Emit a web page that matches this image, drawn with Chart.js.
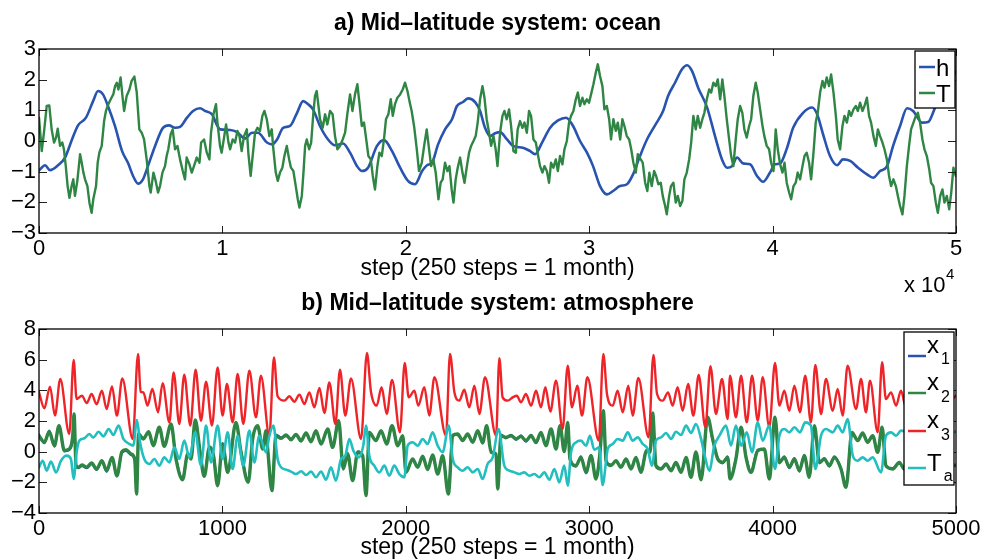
<!DOCTYPE html>
<html>
<head>
<meta charset="utf-8">
<script src="https://cdn.jsdelivr.net/npm/chart.js@4.4.1/dist/chart.umd.min.js"></script>
<style>
  html, body { margin: 0; padding: 0; background: #fff; }
  #wrap { position: relative; width: 983px; height: 559px; }
  #wrap canvas { position: absolute; left: 0; top: 0; }
</style>
</head>
<body>
<div id="wrap">
  <canvas id="ocean" width="983" height="559"></canvas>
  <canvas id="atmos" width="983" height="559"></canvas>
</div>
<script>
// ── Panel a) ocean: h and T against step ─────────────────────
const hSteps = [0,330,600,1040,1420,1800,2130,2560,2950,3220,3490,3760,4140,4530,4850,5130,5400,5670,5940,6330,6760,7090,7420,7690,8070,8400,8780,9050,9430,9710,9870,10420,10800,11230,11620,11940,12430,12710,12980,13310,13690,14070,14400,14670,14940,15320,15760,
  16140,16580,16960,17340,17610,17940,18430,18810,19250,19690,20120,20500,20890,21160,21430,21760,22140,22520,22790,23120,23390,23780,24050,24320,24590,24870,25140,25520,25850,26390,26780,27050,27430,27870,28300,28740,29120,29500,29880,30210,30590,30970,31300,31680,32060,32390,32770,
  33150,33590,34030,34300,34680,35060,35340,35610,35940,36430,36860,37240,37520,37790,38060,38390,38770,39150,39480,39860,40130,40410,40790,41120,41660,42150,42430,42750,43130,43520,43840,44230,44660,45150,45480,45860,46240,46570,46950,47330,47660,48150,48480,48860,49240,50000];
const hVals = [-0.96,-0.79,-0.95,-0.79,-0.54,0.05,0.51,0.76,1.3,1.63,1.52,1.14,0.49,-0.33,-0.71,-1.14,-1.39,-1.25,-0.82,-0.16,0.43,0.51,0.43,0.46,0.76,0.98,1.07,0.98,0.87,0.51,0.38,0.36,0.29,0.08,0.27,0.27,-0.05,-0.11,0.05,0.43,0.49,0.92,1.3,1.2,1.03,0.49,0.05,
  -0.14,-0.08,-0.38,-0.82,-0.98,-0.87,-0.16,0.03,-0.33,-0.87,-1.3,-1.41,-0.98,-0.79,-0.71,-0.11,0.38,0.71,1.14,1.27,1.39,1.27,0.98,0.43,0.16,0.25,0.29,0.05,-0.16,-0.22,-0.33,-0.43,-0.05,0.43,0.67,0.76,0.49,0,-0.38,-0.82,-1.47,-1.74,-1.63,-1.47,-1.41,-1.09,-0.49,
  0.05,0.51,0.98,1.47,1.9,2.34,2.47,2.28,1.74,1.09,0.16,-0.6,-0.87,-0.82,-0.54,-0.73,-0.76,-1.14,-1.33,-1.03,-0.76,-0.73,-0.22,0.43,0.92,1.09,0.87,0.22,-0.49,-0.79,-0.6,-0.65,-0.87,-1.09,-1.2,-0.98,-0.82,-0.16,0.49,1.07,0.98,0.6,0.62,1.09,1.58,2.26];

const tSteps = [0,150,270,420,560,690,820,930,1020,1150,1270,1360,1460,1560,1660,1780,1870,1960,2090,2240,2330,2420,2510,2640,2750,2870,2960,3110,3200,3290,3420,3550,3650,3780,3910,4050,4150,4240,4330,4450,4560,4640,4780,4930,5050,5200,5330,5470,5600,5730,5870,6020,6090,6240,6360,6490,6600,6730,6870,6960,7050,7180,7290,7420,7550,7690,7840,7960,8050,8200,8330,8450,8600,8750,8840,9000,9150,9290,9380,9510,9650,9730,9870,9960,10090,10200,10330,10420,10560,10690,10820,10930,11050,11180,11330,11420,11540,11650,11780,11910,12050,12180,12290,12420,12560,12690,12780,12910,13020,13140,13270,13380,13510,13640,13740,13870,14000,14110,14200,14330,14420,14510,14600,14730,14840,14960,15050,15140,15240,
  15320,15470,15600,15720,15870,16010,16140,16270,16410,16560,16690,16810,16960,17090,17230,17360,17470,17600,17720,17830,17960,18090,18200,18320,18450,18560,18690,18810,18920,19050,19180,19290,19410,19540,19690,19830,19960,20090,20200,20320,20450,20600,20720,20870,21000,21140,21270,21380,21500,21630,21780,21900,22010,22140,22270,22380,22500,22600,22720,22830,22960,23090,23200,23320,23450,23560,23690,23810,23920,24050,24180,24290,24410,24540,24650,24780,24900,25000,25140,25270,25380,25500,25630,25740,25870,26000,26100,26230,26360,26470,26600,26720,26830,26960,27090,27200,27320,27450,27560,27690,27810,27920,28050,28180,28290,28410,28540,28650,28780,28900,29010,29140,29270,29380,29500,29630,29740,29870,29990,30100,30230,30360,30470,30590,30720,30830,30960,31090,31190,31320,31450,31560,31690,31810,31920,32050,32180,32290,32410,32540,32650,
  32920,33050,33170,33280,33410,33540,33650,33770,33900,34010,34140,34230,34360,34460,34590,34720,34830,34960,35080,35190,35320,35450,35560,35680,35810,35920,36050,36170,36280,36410,36540,36650,36770,36900,37010,37140,37260,37370,37500,37630,37740,37860,37990,38100,38230,38350,38460,38590,38720,38830,38950,39080,39190,39320,39450,39550,39680,39810,39920,40050,40170,40280,40410,40540,40650,40770,40900,41010,41140,41260,41370,41500,41630,41740,41860,41990,42100,42230,42350,42460,42590,42720,42830,42950,43080,43190,43320,43450,43550,43680,43810,43920,44050,44170,44280,44410,44540,44650,44770,44900,45010,45140,45260,45370,45500,45630,45740,45860,45990,46100,46230,46350,46460,46590,46720,46830,46950,47080,47190,47320,47440,47550,47680,47810,47920,48040,48170,48280,48410,48540,48640,48770,48900,49010,49140,49260,49370,49500,49630,49740,49860,49990];
const tVals = [0.76,-0.33,0.27,1.14,1.16,0.38,-0.05,0.11,0.40,-0.16,-0.05,-0.27,-0.82,-1.47,-1.85,-1.47,-1.25,-1.79,-1.30,-0.43,-0.71,-1.03,-1.25,-1.47,-2.01,-2.34,-1.90,-1.47,-0.71,-0.38,-0.16,0.65,0.98,1.20,1.36,1.52,1.79,1.90,1.68,2.07,1.41,0.98,1.47,1.68,1.96,2.10,1.58,0.38,0.27,0.05,-0.60,-1.47,-1.68,-1.03,-1.30,-1.68,-1.47,-1.03,-0.82,-0.49,-0.27,0.22,0.38,-0.27,-0.16,-0.60,-0.98,-1.25,-0.54,-0.76,-1.03,-0.82,-0.54,-0.71,-0.05,0.05,-0.38,-0.60,0.27,0.87,1.20,0.60,-0.16,-0.38,0.11,0.54,-0.05,-0.27,0.05,-0.05,0.33,0.16,-0.33,0.16,0.38,-0.43,-1.14,-0.49,0.27,0.43,0.33,0.82,0.98,0.71,0.16,0.38,-0.27,-1.03,-1.30,-1.03,-0.87,-0.49,-0.16,-0.60,-0.87,-0.98,-1.47,-1.90,-2.17,-1.79,-1.03,-0.16,0.05,-0.27,-0.05,0.92,1.47,1.63,1.14,
  0.71,0.43,0.87,0.54,0.98,0.87,0.16,-0.27,-0.16,0.05,0.27,0.87,1.52,0.98,1.52,1.85,1.25,0.49,0.60,0.11,-0.49,-0.60,-1.14,-1.58,-0.82,-0.38,-0.49,0.05,0.71,0.87,1.36,0.82,1.20,1.41,1.52,1.68,1.90,1.63,1.30,0.98,0.49,-0.27,-0.98,-0.71,-0.16,0.38,-0.27,-0.82,-0.60,-1.03,-1.90,-1.36,-1.25,-0.71,-0.98,-0.82,-1.58,-2.01,-1.25,-0.87,-0.54,-1.03,-1.36,-0.87,-0.38,-0.16,0,0.16,0.60,1.36,1.79,1.41,0.71,0.27,-0.16,0.16,-0.27,-0.82,0.27,0.82,0.98,0.71,1.03,0.49,-0.33,-0.38,0.38,0.65,0.43,0.60,0.27,0.98,0.82,0.05,-0.05,-0.43,-0.82,-1.03,-0.82,-0.98,-1.36,-0.71,-0.87,-0.60,-0.98,-0.49,-0.76,-0.27,0,0.60,0.82,0.98,1.36,1.58,1.14,1.41,1.20,1.36,1.25,1.52,1.85,2.23,2.50,2.12,1.79,1.03,1.14,0.71,0.05,0.71,0.33,0.60,0.05,0.71,0.49,0.16,0.05,-0.27,-0.71,-1.03,-0.43,
  -0.71,-1.36,-1.63,-1.03,-1.47,-0.98,-1.14,-1.41,-1.36,-1.79,-2.12,-2.39,-1.79,-1.47,-1.36,-2.01,-1.79,-2.12,-1.96,-1.25,-1.03,-0.60,-0.05,0.82,0.38,0.82,0.43,0.71,0.92,1.36,1.68,1.58,1.90,1.79,2.01,1.36,2.01,1.47,0.71,0.05,-0.49,-0.82,0.05,0.71,1.14,0.92,0.38,0.11,0.49,0.71,1.47,1.90,1.58,1.03,0.49,0.16,-0.16,-0.27,-0.71,-0.98,0.38,-0.27,-0.76,-1.03,-0.71,-1.36,-1.68,-1.90,-1.47,-1.36,-1.03,-1.25,-0.82,-0.49,-0.38,-0.71,-1.25,-0.38,0.60,0.92,1.58,1.96,1.74,2.07,1.79,2.17,1.58,0.82,0.05,-0.27,0.49,0.82,0.60,0.98,0.82,1.03,1.14,0.98,1.25,0.98,1.14,1.41,0.82,0.60,0.16,-0.16,0.38,0.16,-0.05,-0.27,-0.60,-1.14,-1.47,-1.25,-1.47,-1.79,-2.12,-2.39,-1.79,-0.82,-0.16,0.38,0.60,0.82,0.92,0.60,0.05,-0.27,-0.49,-0.92,-1.36,-1.47,-2.01,-2.34,-1.79,-1.58,-2.01,-1.79,-2.23,-1.68,-0.87,-1.14];

const oceanXTicks = [0, 10000, 20000, 30000, 40000, 50000];
const oceanYTicks = [-3, -2, -1, 0, 1, 2, 3];

// ── Panel b) atmosphere: x1, x2, x3, Ta against step ─────────
const x2Steps = [0,29,56,84,109,138,165,184,191,202,216,234,260,287,314,343,369,398,425,452,474,502,522,532,543,569,598,623,656,683,720,747,783,811,829,852,878,901,929,951,974,1001,1029,1074,1101,1141,1165,1192,1220,1238,
  1247,1270,1292,1320,1347,1374,1401,1429,1456,1483,1510,1538,1574,1601,1634,1659,1683,1710,1738,1765,1783,1801,1837,1865,1896,1925,1956,1983,2001,2037,2065,2092,2119,2146,2174,2201,2232,2256,2283,2310,2337,2365,2392,2419,2441,2465,2492,
  2501,2519,2546,2574,2601,2628,2655,2683,2710,2737,2764,2792,2819,2841,2864,2883,2895,2928,2955,2983,3010,3037,3059,3077,3092,3119,3146,3173,3201,3228,3255,3282,3313,3332,3346,3364,3392,3419,3446,3473,3501,3528,3555,3582,3610,3646,3673,3701,3728,3755,
  3768,3800,3828,3855,3882,3919,3955,3982,4013,4037,4064,4091,4119,4146,4173,4200,4228,4255,4282,4309,4337,4373,4400,4433,4464,4491,4518,4546,4573,4597,4618,4655,4691,4718,4780,4850,4920,5000];
const x2Vals = [1.04,0.61,1.30,0.39,1.70,0.07,0.17,1.04,2.46,-0.91,-1.02,-0.87,-1.02,-0.74,-1.13,-0.59,-1.24,-0.37,-1.57,0.0,0.13,-0.15,-0.48,-2.76,1.15,0.83,1.30,0.39,1.59,0.35,1.80,-0.48,-1.83,-0.15,-0.48,2.07,0.0,-1.61,0.28,-0.22,-2.22,0.5,-1.35,1.91,0.0,-2.0,0.83,1.70,0.17,1.37,
  0.17,-2.54,1.04,0.87,1.09,0.78,1.13,0.70,1.22,0.65,1.37,0.50,1.48,0.28,2.02,-1.13,-0.15,-1.89,-0.04,-0.26,-2.87,1.26,0.72,1.37,0.50,1.70,0.39,1.04,-1.35,-0.48,-1.02,-0.30,-1.17,-0.22,-1.46,-0.26,-2.76,1.04,1.15,0.72,1.15,0.61,1.37,0.57,1.70,-0.04,-0.15,
  -2.43,1.04,0.93,1.04,0.83,1.0,0.72,1.04,0.61,1.26,0.39,1.48,0.17,1.70,0.0,1.91,-0.48,-0.91,-0.37,-1.35,-0.26,-1.78,-0.04,2.67,-0.59,-0.91,-0.59,-1.02,-0.48,-1.13,-0.37,-1.35,0.07,-0.04,2.52,-0.91,-1.13,-0.80,-1.24,-0.70,-1.35,-0.37,-1.67,-0.04,-1.83,2.24,0.83,-0.48,-0.70,-0.37,
  -1.78,-0.48,1.59,-0.37,-1.35,0.07,0.17,-1.78,2.24,-0.70,-0.37,-1.02,-0.48,-1.24,-0.26,-1.67,1.70,-0.70,-0.48,-0.91,-0.37,-1.13,-2.33,1.26,0.72,1.22,0.61,1.04,-0.04,1.59,-0.91,-1.13,-0.70,-1.13,-0.8,-1.1,-0.7,-0.9];
const x1Vals = [1.12,0.55,1.38,0.33,1.62,0.02,0.10,0.85,2.10,-0.98,-1.08,-0.93,-1.08,-0.80,-1.19,-0.65,-1.30,-0.43,-1.62,-0.08,0.05,-0.22,-0.55,-2.55,1.05,0.90,1.22,0.45,1.50,0.42,1.70,-0.40,-1.75,-0.08,-0.40,1.90,0.05,-1.52,0.34,-0.15,-2.05,0.56,-1.25,1.80,0.06,-1.88,0.88,1.62,0.22,1.30,
  0.10,-2.35,1.12,0.93,1.02,0.85,1.06,0.77,1.15,0.72,1.30,0.57,1.40,0.35,1.90,-1.05,-0.08,-1.80,0.02,-0.32,-2.65,1.18,0.79,1.30,0.57,1.62,0.45,0.95,-1.28,-0.55,-0.95,-0.36,-1.10,-0.28,-1.40,-0.32,-2.55,1.12,1.08,0.79,1.08,0.68,1.30,0.63,1.62,0.02,-0.22,
  -2.25,1.12,0.87,1.10,0.77,1.07,0.66,1.10,0.55,1.19,0.45,1.40,0.23,1.62,0.06,1.80,-0.40,-0.97,-0.31,-1.41,-0.20,-1.70,0.02,2.45,-0.65,-0.85,-0.65,-0.96,-0.54,-1.07,-0.43,-1.29,0.13,0.02,2.30,-0.97,-1.07,-0.86,-1.18,-0.76,-1.29,-0.43,-1.60,0.02,-1.75,2.05,0.76,-0.42,-0.76,-0.31,
  -1.70,-0.42,1.50,-0.31,-1.29,0.13,0.10,-1.70,2.05,-0.76,-0.31,-1.08,-0.42,-1.30,-0.20,-1.60,1.60,-0.76,-0.42,-0.97,-0.31,-1.07,-2.15,1.18,0.79,1.15,0.68,0.97,0.02,1.50,-0.97,-1.07,-0.76,-1.07,-0.86,-1.05,-0.76,-0.95];

const x3Steps = [0,29,60,87,116,165,189,205,234,260,287,314,343,369,398,425,454,511,540,554,569,592,618,649,674,711,734,765,792,825,854,883,911,943,974,1001,1025,1056,1083,1114,1147,1183,1210,
  1256,1281,1301,1338,1365,1392,1420,1447,1474,1501,1529,1556,1583,1616,1641,1670,1701,1756,1788,1810,1841,1868,1896,1925,1968,1994,2016,2047,2068,2101,2128,2156,2219,2241,2265,2292,2319,2346,2374,2401,2432,2492,
  2510,2528,2555,2583,2605,2628,2655,2683,2710,2737,2761,2788,2819,2855,2883,2906,2935,2961,2990,3052,3077,3097,3128,3155,3183,3213,3237,3268,3324,3350,3370,3401,3430,3455,3482,3510,3539,3568,3597,3633,3661,3691,3724,3755,
  3768,3800,3828,3859,3888,3919,3946,3982,4013,4037,4064,4091,4119,4149,4178,4209,4233,4264,4291,4328,4355,4382,4409,4455,4482,4509,4531,4573,4597,4618,4646,4673,4700,4727,4760,4800,4840,4880,4920,4960,5000];
const x3Vals = [3.87,2.83,4.24,2.35,4.74,1.15,5.98,3.43,3.65,3.17,3.76,3.09,3.98,2.78,4.26,2.35,4.78,0.83,6.37,3.91,3.87,3.0,4.09,2.57,4.46,1.91,5.17,1.80,5.02,1.70,5.35,2.02,4.57,1.70,5.50,2.35,4.41,1.91,5.07,1.80,5.28,2.24,4.96,
  1.04,6.15,3.61,3.33,3.61,3.26,3.72,3.11,3.87,2.89,4.15,2.52,4.52,1.80,5.35,2.35,4.78,0.83,6.43,3.91,3.0,4.20,2.46,4.67,1.26,5.78,3.54,3.98,3.0,4.20,2.35,4.85,1.04,6.37,3.87,3.33,4.04,2.89,4.30,2.46,4.85,1.04,
  6.09,3.54,3.33,3.54,3.65,3.22,3.76,3.0,3.98,2.89,4.20,2.61,4.63,1.48,5.61,2.89,4.30,2.35,4.85,0.72,6.37,3.76,3.0,3.98,2.57,4.30,2.35,4.80,0.93,6.30,3.76,3.33,3.87,3.0,4.20,2.67,4.41,2.35,5.0,1.59,5.57,2.46,4.74,2.13,
  4.96,2.24,4.96,1.91,4.96,2.02,4.85,1.59,5.78,3.0,3.98,2.67,4.30,2.57,4.96,1.91,5.65,2.46,4.74,2.67,4.09,2.35,5.61,2.78,4.74,2.57,4.63,1.26,5.83,3.43,3.87,3.0,3.98,2.89,3.9,3.2,4.1,3.0,4.2,3.3,3.65];

const taSteps = [0,20,42,65,93,120,151,174,189,205,220,247,274,296,325,351,380,405,434,460,493,514,534,551,574,602,629,656,683,711,738,765,792,820,852,883,911,938,974,1001,1029,1056,1083,1114,1147,1174,1201,1238,
  1256,1278,1301,1320,1347,1374,1401,1429,1456,1483,1510,1538,1565,1592,1619,1647,1670,1692,1714,1743,1768,1783,1801,1828,1856,1883,1910,1937,1965,1992,2010,2037,2065,2092,2119,2146,2174,2201,2234,2256,2283,2310,2337,2365,2392,2419,2446,2474,
  2506,2537,2565,2592,2619,2646,2674,2701,2728,2755,2783,2810,2837,2864,2883,2901,2928,2955,2983,3004,3028,3055,3073,3101,3128,3155,3183,3210,3237,3264,3292,3319,3342,3364,3392,3419,3446,3473,3501,3528,3555,3582,3610,3628,3655,3682,3710,3746,
  3773,3800,3828,3859,3888,3919,3946,3982,4013,4037,4064,4091,4119,4149,4178,4209,4233,4264,4291,4328,4355,4382,4409,4437,4464,4491,4518,4546,4591,4618,4646,4673,4700,4780,4860,4930,5000];
const taVals = [-1.02,-0.59,-1.24,-0.65,-1.35,-0.59,-0.26,-0.48,-1.78,-0.04,0.72,0.87,1.15,0.93,1.30,1.0,1.48,1.09,1.70,0.83,0.50,0.39,2.07,0.61,-0.48,-0.80,-0.48,-0.91,-0.37,-0.70,0.28,-0.48,0.72,-0.37,1.26,-0.91,1.70,-0.70,1.70,-0.48,1.26,-1.13,1.04,-0.91,1.37,-0.70,1.04,-0.04,
  1.04,1.70,-0.48,-1.02,-1.17,-1.30,-1.46,-1.28,-1.52,-1.30,-1.67,-1.30,-1.83,-1.02,-1.89,-0.48,-0.26,0.83,0.07,-0.37,0.39,1.70,-0.26,-0.91,-1.35,-0.91,-1.57,-0.91,-1.46,-1.67,0.39,0.61,0.39,0.83,0.50,1.26,0.39,-0.04,1.70,-0.48,-1.02,-1.24,-1.02,-1.35,-1.13,-1.78,-0.80,-0.37,
  1.48,-0.91,-1.24,-1.35,-1.46,-1.35,-1.57,-1.46,-1.67,-1.35,-1.83,-1.13,-2.0,-0.91,-2.22,-0.04,0.61,0.72,0.39,1.04,0.13,0.28,-2.17,0.17,0.50,0.83,0.72,1.26,0.72,0.93,0.50,0.17,-0.91,0.72,0.93,1.22,0.83,1.30,1.09,1.70,1.22,1.80,0.83,-0.15,-1.24,0.39,1.04,1.70,
  0.39,1.70,0.39,1.26,-0.04,1.91,0.72,1.70,-1.13,1.04,1.48,1.26,1.59,1.26,1.91,1.70,-1.13,1.04,1.48,1.26,1.70,1.26,2.13,-0.26,-0.59,-0.37,-0.59,-0.37,-1.35,1.04,1.26,1.04,1.37,1.1,1.4,1.2,1.3];

const atmosXTicks = [0, 1000, 2000, 3000, 4000, 5000];
const atmosYTicks = [-4, -2, 0, 2, 4, 6, 8];

// ── colours / fonts ──────────────────────────────────────────
const BLUE  = 'rgb(40,84,176)';
const GREEN = 'rgb(46,133,68)';
const RED   = 'rgb(238,36,40)';
const CYAN  = 'rgb(34,190,192)';
const FONT  = '"Liberation Sans", Arial, Helvetica, sans-serif';

Chart.defaults.font.family = FONT;
Chart.defaults.color = '#000';

const pts = (xs, ys) => xs.map((x, i) => ({ x, y: ys[i] }));
const minus = v => (v < 0 ? '\u2212' + Math.abs(v) : String(v));

// ══════════════════════════════════════════════════════════════
// Frame plugin: box, inward ticks, panel title, custom legend
// ══════════════════════════════════════════════════════════════
const framePlugin = {
    id: 'frame',
    afterDraw(chart, args, opts) {
        const { ctx, chartArea: a } = chart;
        const xs = chart.scales.x, ys = chart.scales.y;
        ctx.save();

        // inward tick marks on all four sides
        ctx.strokeStyle = '#222';
        ctx.lineWidth = 1;
        ctx.beginPath();
        xs.ticks.forEach(t => {
            const px = Math.round(xs.getPixelForValue(t.value)) + 0.5;
            ctx.moveTo(px, a.bottom); ctx.lineTo(px, a.bottom - 7);
            ctx.moveTo(px, a.top);    ctx.lineTo(px, a.top + 7);
        });
        ys.ticks.forEach(t => {
            const py = Math.round(ys.getPixelForValue(t.value)) + 0.5;
            ctx.moveTo(a.left, py);  ctx.lineTo(a.left + 8, py);
            ctx.moveTo(a.right, py); ctx.lineTo(a.right - 8, py);
        });
        ctx.stroke();

        // axes box
        ctx.strokeStyle = '#000';
        ctx.lineWidth = 1.3;
        ctx.strokeRect(a.left, a.top, a.right - a.left, a.bottom - a.top);

        // panel title
        ctx.fillStyle = '#000';
        ctx.font = 'bold 23px ' + FONT;
        ctx.textAlign = 'center';
        ctx.textBaseline = 'alphabetic';
        ctx.fillText(opts.title, (a.left + a.right) / 2, opts.titleY);

        // exponent under the x axis
        if (opts.exponent) {
            ctx.textAlign = 'left';
            ctx.font = '22px ' + FONT;
            ctx.fillText('x 10', 904, 292);
            ctx.font = '15px ' + FONT;
            ctx.fillText(opts.exponent, 946, 279);
        }

        // legend
        const lg = opts.legend;
        if (lg) {
            ctx.fillStyle = '#fff';
            ctx.fillRect(lg.x, lg.y, lg.w, lg.h);
            ctx.strokeStyle = '#000';
            ctx.lineWidth = 1.3;
            ctx.strokeRect(lg.x, lg.y, lg.w, lg.h);
            lg.items.forEach(it => {
                ctx.strokeStyle = it.color;
                ctx.lineWidth = 2.5;
                ctx.beginPath();
                ctx.moveTo(lg.x + 4, it.lineY);
                ctx.lineTo(lg.x + lg.lineLen, it.lineY);
                ctx.stroke();
                ctx.fillStyle = '#000';
                ctx.textAlign = 'left';
                ctx.font = '24px ' + FONT;
                const tx = lg.x + lg.lineLen + 1;
                ctx.fillText(it.text, tx, it.base);
                if (it.sub) {
                    const w = ctx.measureText(it.text).width;
                    ctx.font = '16px ' + FONT;
                    ctx.fillText(it.sub, tx + w + 2, it.subBase);
                }
            });
        }
        ctx.restore();
    }
};

// ── shared axis builders ─────────────────────────────────────
const xAxis = (min, max, height, titlePad, values, fmt) => ({
    type: 'linear', min, max,
    grid: { display: false, drawTicks: false },
    border: { display: false },
    afterBuildTicks: s => { s.ticks = values.map(v => ({ value: v })); },
    ticks: { padding: 3, maxRotation: 0, autoSkip: false,
             font: { size: 22 }, callback: fmt },
    title: { display: true, text: 'step (250 steps = 1 month)',
             font: { size: 23, lineHeight: 1 }, padding: { top: 0, bottom: titlePad } },
    afterFit: s => { s.height = height; s.paddingLeft = 0; s.paddingRight = 0; }
});
const yAxis = (min, max, values) => ({
    type: 'linear', min, max,
    grid: { display: false, drawTicks: false },
    border: { display: false },
    afterBuildTicks: s => { s.ticks = values.map(v => ({ value: v })); },
    ticks: { padding: 3, font: { size: 22 }, callback: minus },
    afterFit: s => { s.width = 39; s.paddingTop = 0; s.paddingBottom = 0; }
});

const lineSet = (label, data, color, width, order, mode) => ({
    label, data, borderColor: color, backgroundColor: color,
    borderWidth: width, pointRadius: 0, fill: false, order,
    borderJoinStyle: 'round', borderCapStyle: 'round',
    tension: mode ? 0.4 : 0, cubicInterpolationMode: mode || 'default'
});

const baseOptions = (padTop, padBottom, xCfg, yCfg, frame) => ({
    responsive: false, animation: false, events: [],
    layout: { padding: { top: padTop, left: 0, right: 27, bottom: padBottom } },
    scales: { x: xCfg, y: yCfg },
    plugins: { legend: { display: false }, tooltip: { enabled: false }, frame }
});

// ── a) ocean ─────────────────────────────────────────────────
new Chart(document.getElementById('ocean'), {
    type: 'line',
    data: { datasets: [
        lineSet('h', pts(hSteps, hVals), BLUE, 2.6, 2, 'monotone'),
        lineSet('T', pts(tSteps, tVals), GREEN, 2.4, 1, null)
    ]},
    options: baseOptions(49, 269,
        xAxis(0, 50000, 57, 10, oceanXTicks, v => String(v / 10000)),
        yAxis(-3, 3, oceanYTicks), {
        title: 'a) Mid\u2013latitude system: ocean', titleY: 30, exponent: '4',
        legend: { x: 915, y: 51, w: 40, h: 57, lineLen: 20, items: [
            { text: 'h', color: BLUE,  lineY: 67, base: 76 },
            { text: 'T', color: GREEN, lineY: 93, base: 102 }
        ]}
    }),
    plugins: [framePlugin]
});

// ── b) atmosphere ────────────────────────────────────────────
new Chart(document.getElementById('atmos'), {
    type: 'line',
    data: { datasets: [
        lineSet('x1', pts(x2Steps, x1Vals), BLUE,  2.2, 4, 'monotone'),
        lineSet('x2', pts(x2Steps, x2Vals), GREEN, 3.4, 3, 'monotone'),
        lineSet('x3', pts(x3Steps, x3Vals), RED,   2.4, 2, 'monotone'),
        lineSet('Ta', pts(taSteps, taVals), CYAN,  2.6, 1, 'monotone')
    ]},
    options: baseOptions(329, 0,
        xAxis(0, 5000, 46, 0, atmosXTicks, v => String(v)),
        yAxis(-4, 8, atmosYTicks), {
        title: 'b) Mid\u2013latitude system: atmosphere', titleY: 310,
        legend: { x: 904, y: 332, w: 50, h: 153, lineLen: 22, items: [
            { text: 'x', sub: '1', color: BLUE,  lineY: 356, base: 353, subBase: 364 },
            { text: 'x', sub: '2', color: GREEN, lineY: 393, base: 390, subBase: 402 },
            { text: 'x', sub: '3', color: RED,   lineY: 431, base: 428, subBase: 440 },
            { text: 'T', sub: 'a', color: CYAN,  lineY: 468, base: 471, subBase: 481 }
        ]}
    }),
    plugins: [framePlugin]
});
</script>
</body>
</html>
